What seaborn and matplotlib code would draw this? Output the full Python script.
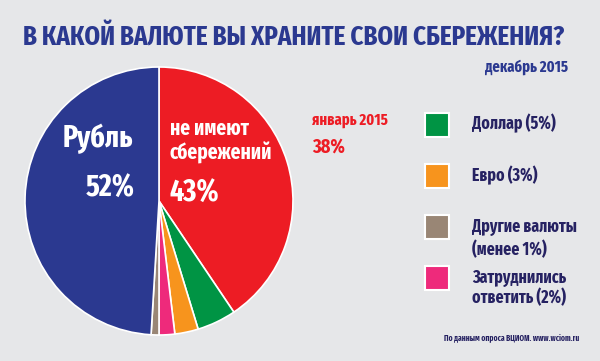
import matplotlib
matplotlib.use("Agg")
import matplotlib.pyplot as plt
import seaborn as sns

# pie slices, clockwise from 12 o'clock
slice_names = ["не имеют сбережений", "Доллар", "Евро", "Затруднились ответить", "Другие валюты", "Рубль"]
slice_values = [43, 5, 3, 2, 1, 52]
slice_colors = ["#ed1c24", "#009444", "#f7941d", "#ee2a7b", "#998675", "#2b3990"]

legend_lines = [["Доллар (5%)"], ["Евро (3%)"], ["Другие валюты", "(менее 1%)"], ["Затруднились", "ответить (2%)"]]
legend_colors = ["#009444", "#f7941d", "#998675", "#ee2a7b"]

sns.set_theme(style="white")
plt.rcParams["font.family"] = ["Fira Sans Extra Condensed", "Roboto Condensed", "DejaVu Sans"]
plt.rcParams["font.weight"] = "bold"

bg = "#e6e7e9"
navy = "#2b3990"
ink = "#262262"
red = "#ed1c24"

W, H = 600, 361
fig = plt.figure(figsize=(6, 3.61), dpi=100)
fig.patch.set_facecolor(bg)

ax = fig.add_axes([25 / W, (H - 335) / H, 268 / W, 268 / H])
ax.pie(slice_values, colors=slice_colors, startangle=90, counterclock=False,
       radius=1, wedgeprops=dict(edgecolor="white", linewidth=1.2))
ax.set_xlim(-1.0, 1.0)
ax.set_ylim(-1.0, 1.0)
ax.set_aspect("equal")
ax.axis("off")

texts = []


def ftext(x, y, s, width, size, ha="left", color=ink, group=None):
    # x, y: pixel anchor (baseline), width: pixel width in the reference
    t = fig.text(x / W, 1 - y / H, s, ha=ha, va="baseline", fontsize=size,
                 color=color, fontweight="bold")
    texts.append((t, width, group))
    return t


ftext(23, 46, "В КАКОЙ ВАЛЮТЕ ВЫ ХРАНИТЕ СВОИ СБЕРЕЖЕНИЯ?", 542, 20, color=navy)
ftext(568, 72, "декабрь 2015", 83, 13, ha="right", color=navy)

ftext(133, 147, "Рубль", 65, 24, ha="right", color="white", group="big")
ftext(135, 197, "52%", 50, 24, ha="right", color="white", group="big")
ftext(170, 135, "не имеют", 80, 18, color="white", group="mid")
ftext(170, 160, "сбережений", 100, 18, color="white", group="mid")
ftext(170, 202, "43%", 52, 24, color="white", group="big")

ftext(312, 125, "январь 2015", 76, 12, color=red)
ftext(312, 153, "38%", 33, 15, color=red)

box_tops = [113, 164, 215, 266]
line_baselines = [[129], [181], [232, 255], [283, 303]]
line_widths = [[85], [66], [103, 76], [91, 95]]
for top, lines, bases, widths, col in zip(box_tops, legend_lines, line_baselines, line_widths, legend_colors):
    fig.patches.append(plt.Rectangle((425 / W, 1 - (top + 24) / H), 24 / W, 24 / H,
                                     transform=fig.transFigure, facecolor=col,
                                     edgecolor="white", linewidth=1.5))
    for s, b, w in zip(lines, bases, widths):
        ftext(472, b, s, w, 14, group="legend")

ftext(579, 340, "По данным опроса ВЦИОМ. www.wciom.ru", 134, 6, ha="right")

# scale font sizes so that text widths match the reference
fig.canvas.draw()
r = fig.canvas.get_renderer()
fits = {}
for t, w, g in texts:
    bw = t.get_window_extent(r).width
    t.set_fontsize(t.get_fontsize() * w / bw)
    if g:
        fits.setdefault(g, []).append(t.get_fontsize())
for t, w, g in texts:
    if g:
        t.set_fontsize(sum(fits[g]) / len(fits[g]))

fig.savefig("out.png", dpi=100, facecolor=bg)
